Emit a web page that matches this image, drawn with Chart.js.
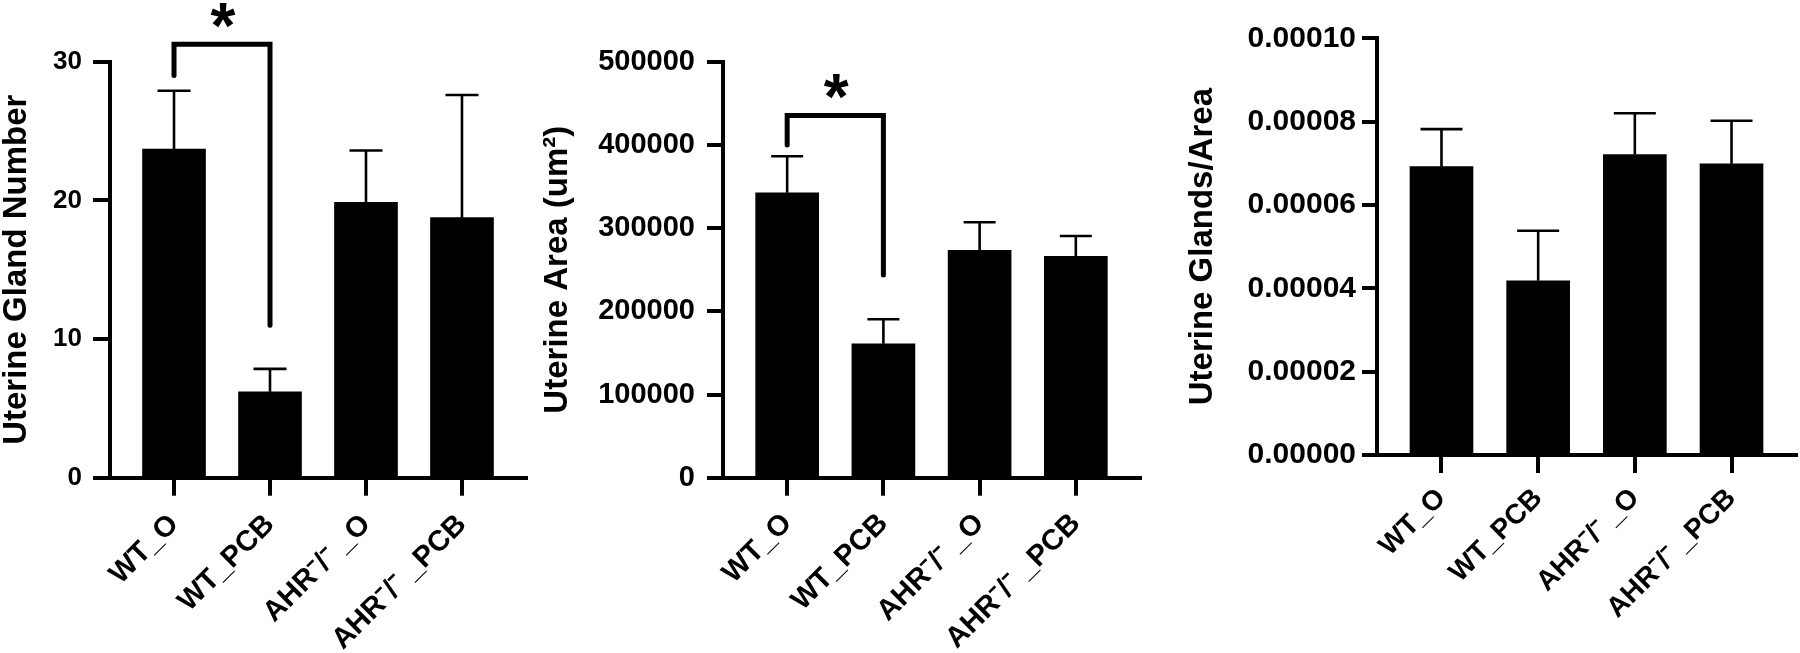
<!DOCTYPE html>
<html>
<head>
<meta charset="utf-8">
<script src="https://cdn.jsdelivr.net/npm/chart.js@4.4.1/dist/chart.umd.min.js"></script>
<style>
html,body{margin:0;padding:0;background:#fff;}
body{width:1800px;height:653px;position:relative;overflow:hidden;}
.panel{position:absolute;top:0;height:653px;}
canvas{display:block;}
</style>
</head>
<body>
<div class="panel" style="left:0px;width:540px"><canvas id="c1" width="540" height="653"></canvas></div>
<div class="panel" style="left:540px;width:620px"><canvas id="c2" width="620" height="653"></canvas></div>
<div class="panel" style="left:1160px;width:640px"><canvas id="c3" width="640" height="653"></canvas></div>
<script>
// ---------- data ----------
const categories = ['WT_O', 'WT_PCB', 'AHR\u207B/\u207B _O', 'AHR\u207B/\u207B _PCB'];

const glandNumberMean   = [23.7, 6.2, 19.85, 18.75];
const glandNumberErrTop = [27.9, 7.85, 23.6, 27.6];
const glandNumberTicks  = [0, 10, 20, 30];

const areaMean   = [342500, 161000, 273300, 266100];
const areaErrTop = [386300, 190400, 307000, 290500];
const areaTicks  = [0, 100000, 200000, 300000, 400000, 500000];

const densityMean   = [6.92e-5, 4.18e-5, 7.21e-5, 6.99e-5];
const densityErrTop = [7.82e-5, 5.38e-5, 8.20e-5, 8.02e-5];
const densityTicks  = [0, 0.00002, 0.00004, 0.00006, 0.00008, 0.0001];

// significance brackets: groups compared, bracket level, leg end values
const glandSig = {from: 0, to: 1, level: 31.26, leftEnd: 29.0, rightEnd: 11.0, label: '*'};
const areaSig  = {from: 0, to: 1, level: 435300, leftEnd: 400000, rightEnd: 243600, label: '*'};

// ---------- rendering ----------
const FONT = '"Liberation Sans", Arial, Helvetica, sans-serif';

const overlayPlugin = {
  id: 'overlay',
  afterDatasetsDraw(chart, args, opts) {
    const ctx = chart.ctx, xs = chart.scales.x, ys = chart.scales.y;
    const means = opts.means, tops = opts.errTop;
    ctx.save();
    ctx.strokeStyle = '#000';
    ctx.lineWidth = opts.errWidth;
    ctx.lineCap = 'butt';
    tops.forEach((t, i) => {
      const x = xs.getPixelForValue(i);
      const y0 = ys.getPixelForValue(means[i]);
      const y1 = ys.getPixelForValue(t);
      ctx.beginPath();
      ctx.moveTo(x, y0);
      ctx.lineTo(x, y1);
      ctx.moveTo(x - opts.cap / 2, y1);
      ctx.lineTo(x + opts.cap / 2, y1);
      ctx.stroke();
    });
    const s = opts.sig;
    if (s) {
      const xl = xs.getPixelForValue(s.from), xr = xs.getPixelForValue(s.to);
      const yl = ys.getPixelForValue(s.level);
      ctx.lineWidth = 5;
      ctx.lineCap = 'round';
      ctx.lineJoin = 'miter';
      ctx.beginPath();
      ctx.moveTo(xl, ys.getPixelForValue(s.leftEnd));
      ctx.lineTo(xl, yl);
      ctx.lineTo(xr, yl);
      ctx.lineTo(xr, ys.getPixelForValue(s.rightEnd));
      ctx.stroke();
      ctx.fillStyle = '#000';
      ctx.font = 'bold 64px ' + FONT;
      ctx.textAlign = 'center';
      ctx.textBaseline = 'alphabetic';
      ctx.fillText(s.label, (xl + xr) / 2 + 1, yl - 33.5 + 0.575 * 64);
    }
    ctx.restore();
  }
};

function makePanel(id, cfg) {
  const ctx = document.getElementById(id);
  const H = 653;
  new Chart(ctx, {
    type: 'bar',
    data: {
      datasets: [{
        data: cfg.means.map((v, i) => ({x: i, y: v})),
        backgroundColor: '#000',
        borderWidth: 0,
        barThickness: 63
      }]
    },
    options: {
      responsive: false,
      animation: false,
      events: [],
      layout: {padding: {top: cfg.top, right: cfg.padRight, bottom: 0, left: 0}},
      plugins: {
        legend: {display: false},
        tooltip: {enabled: false},
        overlay: {means: cfg.means, errTop: cfg.errTop, cap: cfg.cap, errWidth: 2.6, sig: cfg.sig}
      },
      scales: {
        x: {
          type: 'linear',
          offset: false,
          bounds: 'data',
          min: -0.667,
          max: 3.667,
          afterBuildTicks: s => { s.ticks = categories.map((_, i) => ({value: i})); },
          afterFit: s => { s.height = H - cfg.bottom; s.paddingLeft = 0; s.paddingRight = 0; },
          ticks: {
            autoSkip: false,
            maxRotation: 45,
            minRotation: 45,
            padding: cfg.xPad,
            color: '#000',
            font: {family: FONT, size: cfg.xFont, weight: 'bold'},
            callback: v => categories[v]
          },
          grid: {display: true, offset: false, drawOnChartArea: false, drawTicks: true, tickLength: 18, lineWidth: 4, color: '#000'},
          border: {display: true, width: 4, color: '#000'}
        },
        y: {
          type: 'linear',
          min: cfg.ticks[0],
          max: cfg.ticks[cfg.ticks.length - 1],
          afterBuildTicks: s => { s.ticks = cfg.ticks.map(v => ({value: v})); },
          afterFit: s => { s.width = cfg.yWidth; s.paddingTop = 0; s.paddingBottom = 0; },
          ticks: {
            padding: cfg.yPad,
            color: '#000',
            font: {family: FONT, size: cfg.yFont, weight: 'bold'},
            callback: cfg.fmt
          },
          grid: {display: true, drawOnChartArea: false, drawTicks: true, tickLength: cfg.tl, lineWidth: 4, color: '#000'},
          border: {display: true, width: 4, color: '#000'},
          title: {
            display: true,
            text: cfg.title,
            color: '#000',
            font: {family: FONT, size: 33, weight: 'bold', lineHeight: 1},
            padding: {top: cfg.titlePad, bottom: 0}
          }
        }
      }
    },
    plugins: [overlayPlugin]
  });
}

makePanel('c1', {
  means: glandNumberMean, errTop: glandNumberErrTop, ticks: glandNumberTicks, sig: glandSig,
  title: 'Uterine Gland Number', fmt: v => String(v),
  top: 61.7, bottom: 477.7, padRight: 14, yWidth: 110, tl: 17, yPad: 11, yFont: 26,
  xFont: 29, xPad: 12, cap: 33, titlePad: 0
});
makePanel('c2', {
  means: areaMean, errTop: areaErrTop, ticks: areaTicks, sig: areaSig,
  title: 'Uterine Area (um\u00B2)', fmt: v => String(Math.round(v)),
  top: 61.7, bottom: 477.7, padRight: 20, yWidth: 183, tl: 16, yPad: 12, yFont: 29,
  xFont: 29, xPad: 11, cap: 32, titlePad: 1
});
makePanel('c3', {
  means: densityMean, errTop: densityErrTop, ticks: densityTicks, sig: null,
  title: 'Uterine Glands/Area', fmt: v => v.toFixed(5),
  top: 38.3, bottom: 455, padRight: 4, yWidth: 217, tl: 15, yPad: 6, yFont: 30,
  xFont: 28, xPad: 9, cap: 42, titlePad: 26
});
</script>
</body>
</html>
